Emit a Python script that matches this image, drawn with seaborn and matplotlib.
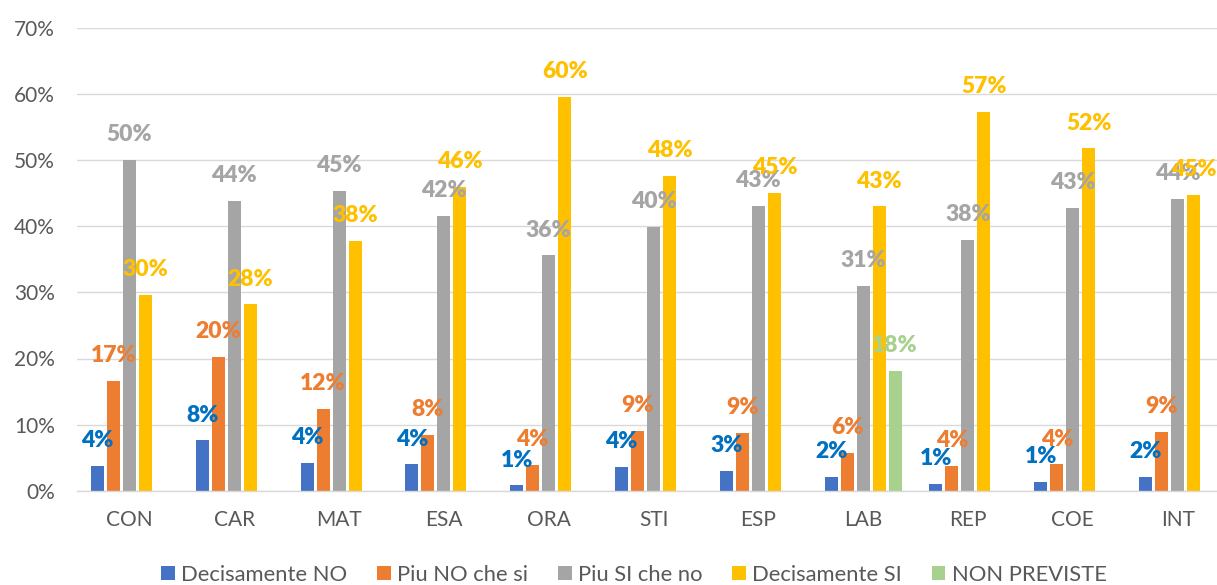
import pandas as pd
import numpy as np
import matplotlib
matplotlib.use('Agg')
import matplotlib.pyplot as plt
import seaborn as sns

# Data (percentages)
categories = ['CON', 'CAR', 'MAT', 'ESA', 'ORA', 'STI', 'ESP', 'LAB', 'REP', 'COE', 'INT']
series = ['Decisamente NO', 'Piu NO che si', 'Piu SI che no', 'Decisamente SI', 'NON PREVISTE']
decisamente_no = [3.7, 7.6, 4.2, 4.0, 0.8, 3.6, 3.0, 2.1, 1.0, 1.3, 2.1]
piu_no_che_si = [16.6, 20.2, 12.4, 8.4, 3.9, 9.0, 8.7, 5.7, 3.7, 4.0, 8.9]
piu_si_che_no = [50.1, 43.9, 45.4, 41.6, 35.6, 39.9, 43.1, 31.0, 37.9, 42.8, 44.2]
decisamente_si = [29.6, 28.2, 37.8, 46.0, 59.6, 47.6, 45.1, 43.0, 57.3, 51.8, 44.7]
non_previste = {'LAB': 18.1}

bar_colors = ['#4472C4', '#ED7D31', '#A5A5A5', '#FFC000', '#A9D18E']
label_colors = ['#0070C0', '#ED7D31', '#A5A5A5', '#FFC000', '#A9D18E']

rows = []
for name, vals in zip(series[:4], [decisamente_no, piu_no_che_si, piu_si_che_no, decisamente_si]):
    for cat, v in zip(categories, vals):
        rows.append({'cat': cat, 'serie': name, 'val': v})
for cat, v in non_previste.items():
    rows.append({'cat': cat, 'serie': series[4], 'val': v})
df = pd.DataFrame(rows)

sns.set_style('white')
plt.rcParams['font.family'] = ['Lato', 'DejaVu Sans']

W, H = 1217, 585
fig = plt.figure(figsize=(W / 100, H / 100), dpi=100)
ax = fig.add_axes([77 / W, 1 - 490.7 / H, (1230 - 77) / W, (490.7 - 28) / H])

sns.barplot(data=df, x='cat', y='val', hue='serie', order=categories, hue_order=series,
            palette=bar_colors, saturation=1, width=0.763, gap=0.19, linewidth=0,
            errorbar=None, ax=ax)

# data labels
for container, col in zip(ax.containers, label_colors):
    for bar in container:
        h = bar.get_height()
        if np.isnan(h):
            continue
        ax.annotate(f'{h:.0f}%', (bar.get_x() + bar.get_width() / 2, h),
                    xytext=(0, 13.5), textcoords='offset points', ha='center', va='baseline',
                    fontsize=16.5, fontweight='heavy', color=col)

ax.set_ylim(0, 70)
ax.set_yticks(range(0, 71, 10))
ax.set_yticklabels([f'{t}%' for t in range(0, 71, 10)])
ax.set_xlabel('')
ax.set_ylabel('')
ax.grid(axis='y', color='#D9D9D9', linewidth=1.0)
ax.set_axisbelow(True)
for s in ['top', 'right', 'left']:
    ax.spines[s].set_visible(False)
ax.spines['bottom'].set_color('#D9D9D9')
ax.spines['bottom'].set_linewidth(1.0)
ax.tick_params(axis='y', length=0, pad=16, labelsize=15, labelcolor='#595959')
ax.tick_params(axis='x', length=0, pad=14, labelsize=15, labelcolor='#595959')

handles, labels = ax.get_legend_handles_labels()
ax.get_legend().remove()
fig.legend(handles, labels, loc='center', bbox_to_anchor=(634 / W, 1 - 575 / H), ncol=5,
           frameon=False, fontsize=15.8, labelcolor='#595959', handlelength=0.62,
           handleheight=0.62, handletextpad=0.3, columnspacing=1.35)

fig.savefig('out.png', dpi=100)
